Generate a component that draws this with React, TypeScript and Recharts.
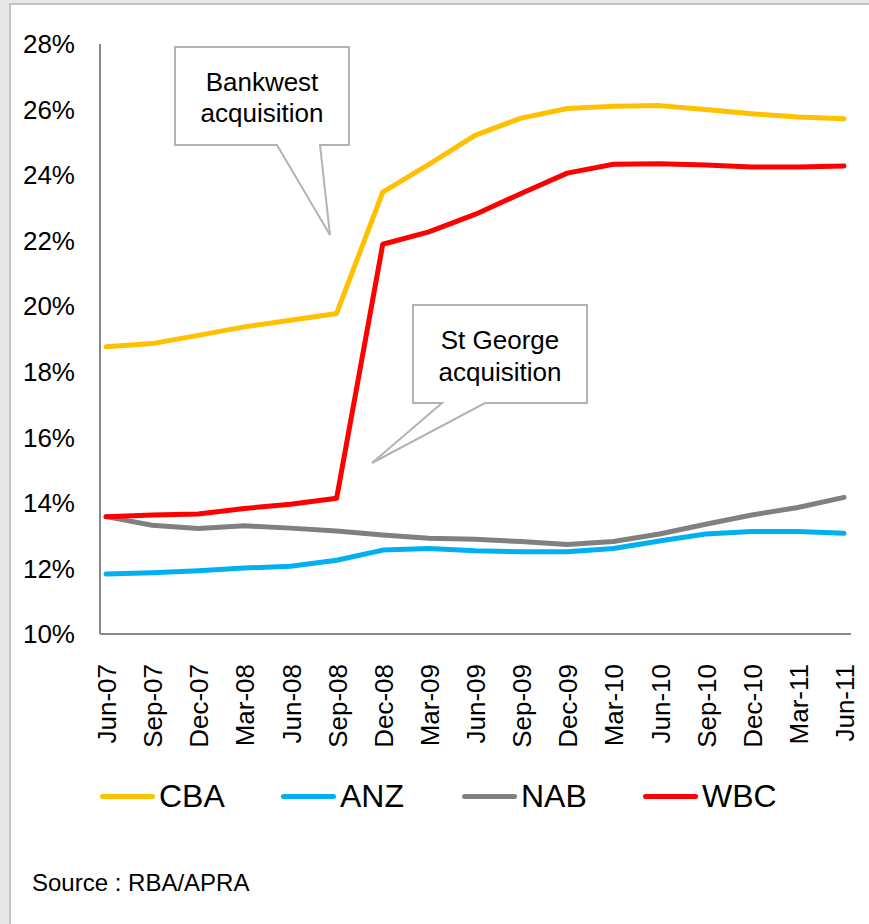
import React from 'react';
import { LineChart, Line, XAxis, YAxis, Legend } from 'recharts';

const categories = [
  'Jun-07', 'Sep-07', 'Dec-07', 'Mar-08', 'Jun-08', 'Sep-08', 'Dec-08', 'Mar-09', 'Jun-09',
  'Sep-09', 'Dec-09', 'Mar-10', 'Jun-10', 'Sep-10', 'Dec-10', 'Mar-11', 'Jun-11',
];
const cba = [18.76, 18.86, 19.11, 19.37, 19.57, 19.78, 23.48, 24.33, 25.21, 25.74, 26.03, 26.1, 26.12, 26.0, 25.87, 25.77, 25.72];
const anz = [11.83, 11.87, 11.93, 12.01, 12.07, 12.25, 12.56, 12.61, 12.54, 12.51, 12.51, 12.61, 12.84, 13.05, 13.13, 13.13, 13.07];
const nab = [13.58, 13.32, 13.22, 13.3, 13.23, 13.14, 13.02, 12.92, 12.89, 12.82, 12.73, 12.82, 13.05, 13.35, 13.63, 13.86, 14.17];
const wbc = [13.58, 13.63, 13.66, 13.83, 13.96, 14.14, 21.89, 22.27, 22.8, 23.44, 24.06, 24.33, 24.35, 24.31, 24.25, 24.25, 24.28];
const yTicks = [10, 12, 14, 16, 18, 20, 22, 24, 26, 28];

const series = [
  { key: 'CBA', color: '#FFC000' },
  { key: 'ANZ', color: '#00B0F0' },
  { key: 'NAB', color: '#808080' },
  { key: 'WBC', color: '#FF0000' },
];

const data = categories.map((c, i) => ({ month: c, CBA: cba[i], ANZ: anz[i], NAB: nab[i], WBC: wbc[i] }));

const FONT = '"Liberation Sans", Arial, sans-serif';

function XTick(props: any) {
  const { x, y, payload } = props;
  return (
    <text
      x={0}
      y={0}
      transform={`translate(${x + 1},${y + 22}) rotate(-90)`}
      textAnchor="end"
      dominantBaseline="central"
      fontSize={26}
      fontFamily={FONT}
      fill="#000"
    >
      {payload.value}
    </text>
  );
}

function LegendBox() {
  return (
    <div style={{ display: 'flex', alignItems: 'center', paddingLeft: 100, fontFamily: FONT, fontSize: 32, color: '#000' }}>
      {series.map((s) => (
        <div key={s.key} style={{ display: 'flex', alignItems: 'center', width: 181 }}>
          <div style={{ width: 55, height: 5, borderRadius: 3, background: s.color, marginRight: 4 }} />
          <span>{s.key}</span>
        </div>
      ))}
    </div>
  );
}

export default function App() {
  return (
    <div style={{ position: 'absolute', left: 0, top: 0, width: 869, height: 924, background: '#e8e8e8', overflow: 'hidden' }}>
      <div
        style={{
          position: 'absolute', left: 9, top: 3, width: 900, height: 960, background: '#fff',
          borderLeft: '2px solid #c4c4c4', borderTop: '2px solid #c4c4c4',
        }}
      />
      <div style={{ position: 'absolute', left: 0, top: 0 }}>
        <LineChart width={869} height={770} data={data} margin={{ top: 44, right: 18, left: 0, bottom: 0 }}>
          <XAxis
            dataKey="month"
            height={136}
            padding={{ left: 6, right: 7 }}
            interval={0}
            tickLine={false}
            axisLine={{ stroke: '#878787', strokeWidth: 2 }}
            tick={<XTick />}
          />
          <YAxis
            width={100}
            domain={[10, 28]}
            ticks={yTicks}
            interval={0}
            tickFormatter={(v) => `${v}%`}
            tickLine={false}
            tickMargin={19}
            axisLine={{ stroke: '#878787', strokeWidth: 2 }}
            tick={{ fill: '#000', fontSize: 26, fontFamily: FONT }}
          />
          <Legend
            layout="horizontal"
            verticalAlign="middle"
            align="center"
            wrapperStyle={{ top: 778, left: 0, width: 869 }}
            content={() => <LegendBox />}
          />
          {series.map((s) => (
            <Line
              key={s.key}
              type="linear"
              dataKey={s.key}
              stroke={s.color}
              strokeWidth={5}
              strokeLinecap="round"
              strokeLinejoin="round"
              dot={false}
              isAnimationActive={false}
            />
          ))}
        </LineChart>
      </div>
      <svg width={869} height={924} style={{ position: 'absolute', left: 0, top: 0, pointerEvents: 'none' }}>
        <path d="M175,47 H349 V145 H320 L330,235 L277,145 H175 Z" fill="#fff" stroke="#b3b3b3" strokeWidth={2} />
        <text x={262} y={82} textAnchor="middle" dominantBaseline="central" fontSize={26} fontFamily={FONT}>Bankwest</text>
        <text x={262} y={113} textAnchor="middle" dominantBaseline="central" fontSize={26} fontFamily={FONT}>acquisition</text>
        <path d="M413,305 H587 V403 H485 L372,463 L442,403 H413 Z" fill="#fff" stroke="#b3b3b3" strokeWidth={2} />
        <text x={500} y={340} textAnchor="middle" dominantBaseline="central" fontSize={26} fontFamily={FONT}>St George</text>
        <text x={500} y={372} textAnchor="middle" dominantBaseline="central" fontSize={26} fontFamily={FONT}>acquisition</text>
      </svg>
      <div style={{ position: 'absolute', left: 32, top: 868, fontFamily: FONT, fontSize: 24, color: '#000', lineHeight: '30px' }}>
        Source : RBA/APRA
      </div>
    </div>
  );
}
